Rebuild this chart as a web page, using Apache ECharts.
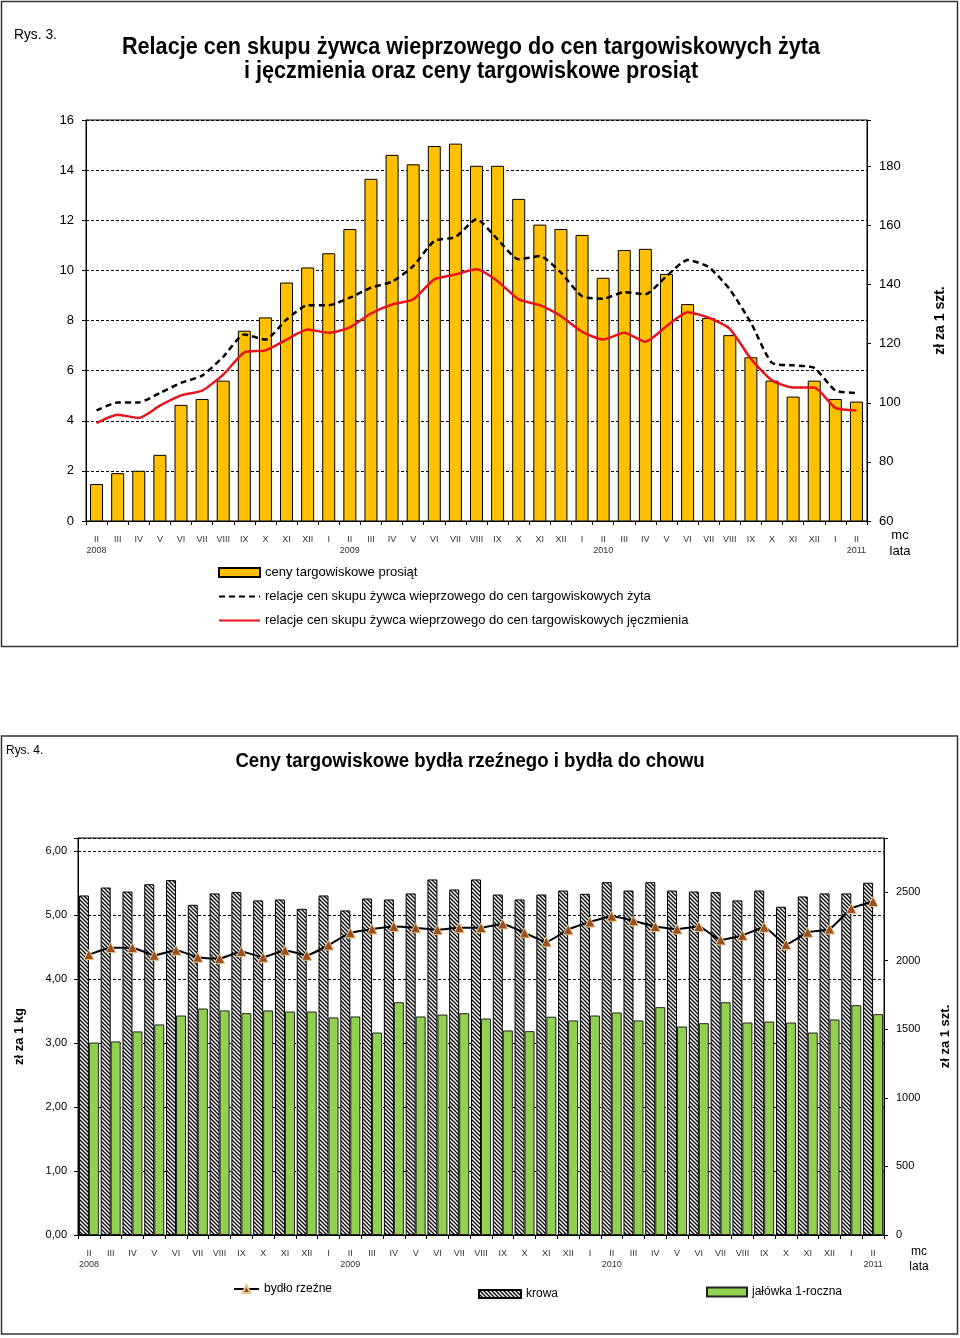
<!DOCTYPE html>
<html><head><meta charset="utf-8">
<script src="https://cdn.jsdelivr.net/npm/echarts@6/dist/echarts.min.js"></script>
<style>html,body{margin:0;padding:0;background:#fff}#c{width:960px;height:1338px}</style>
</head><body><div id="c"></div>
<script>
// ---- shared categories (months Feb 2008 – Feb 2011) ----
const categories = ['II\n2008','III','IV','V','VI','VII','VIII','IX','X','XI','XII','I',
  'II\n2009','III','IV','V','VI','VII','VIII','IX','X','XI','XII','I',
  'II\n2010','III','IV','V','VI','VII','VIII','IX','X','XI','XII','I','II\n2011'];

// ---- Rys. 3 ----
const pigletPrices = [72.5,76.2,77.0,82.4,99.3,101.3,107.5,124.4,128.9,140.7,145.8,150.6,
  158.8,175.8,183.9,180.7,186.9,187.7,180.2,180.2,169.0,160.3,158.8,156.8,
  142.3,151.7,152.1,143.6,133.4,128.7,122.9,115.4,107.5,102.1,107.5,101.3,100.4];
const ryeRatio = [4.41,4.73,4.73,5.11,5.51,5.80,6.55,7.44,7.24,8.04,8.61,8.61,
  8.91,9.31,9.55,10.17,11.17,11.33,12.04,11.24,10.44,10.57,9.91,8.97,
  8.87,9.13,9.05,9.77,10.41,10.13,9.24,7.91,6.31,6.21,6.11,5.21,5.11];
const barleyRatio = [3.91,4.24,4.11,4.60,5.01,5.20,5.84,6.73,6.81,7.24,7.64,7.51,
  7.73,8.28,8.64,8.84,9.64,9.84,10.04,9.57,8.84,8.61,8.17,7.55,
  7.24,7.51,7.15,7.77,8.33,8.11,7.67,6.47,5.61,5.33,5.33,4.51,4.41];

// ---- Rys. 4 ----
const slaughterCattle = [4.38,4.49,4.49,4.37,4.45,4.34,4.32,4.43,4.34,4.45,4.37,4.53,
  4.72,4.78,4.82,4.80,4.77,4.80,4.80,4.86,4.72,4.58,4.77,4.89,
  4.98,4.91,4.82,4.78,4.82,4.61,4.68,4.81,4.54,4.73,4.78,5.10,5.21];
const cowPrices = [2475,2533,2504,2557,2587,2407,2490,2499,2439,2446,2378,2475,
  2366,2453,2446,2490,2592,2519,2592,2482,2446,2482,2511,2487,
  2572,2511,2572,2511,2504,2499,2439,2511,2393,2468,2490,2490,2568];
const heiferPrices = [1403,1411,1484,1535,1600,1651,1637,1617,1637,1629,1629,1586,
  1593,1476,1697,1593,1607,1617,1578,1491,1486,1591,1564,1600,
  1622,1564,1661,1520,1544,1697,1549,1556,1549,1476,1571,1675,1610];

const FONT = "'Liberation Sans', Arial, sans-serif";

// hatch pattern for "krowa"
const hc = document.createElement('canvas');
hc.width = 4; hc.height = 4;
const hx = hc.getContext('2d');
hx.fillStyle = '#fff'; hx.fillRect(0,0,4,4);
hx.strokeStyle = '#000'; hx.lineWidth = 1.3;
hx.beginPath();
hx.moveTo(0,0); hx.lineTo(4,4);
hx.moveTo(-1,3); hx.lineTo(1,5);
hx.moveTo(3,-1); hx.lineTo(5,1);
hx.stroke();
const hatch = {image: hc, repeat: 'repeat'};

const xAxisBase = (gi) => ({
  gridIndex: gi, type: 'category', data: categories, boundaryGap: true,
  axisLine: {lineStyle: {color: '#000', width: 1}},
  axisTick: {show: true, length: 4, lineStyle: {color: '#000'}},
  axisLabel: {interval: 0, fontSize: 9, color: '#333', margin: 13, lineHeight: 11, fontFamily: FONT}
});

const chart = echarts.init(document.getElementById('c'), null, {renderer: 'canvas'});
chart.setOption({
  animation: false,
  backgroundColor: '#fff',
  textStyle: {fontFamily: FONT},
  grid: [
    {left: 86, top: 120, right: 93, height: 401, show: true, borderColor: '#000', borderWidth: 1, backgroundColor: 'transparent', containLabel: false},
    {left: 78, top: 838, right: 70, height: 397, show: true, borderColor: '#000', borderWidth: 1, backgroundColor: 'transparent', containLabel: false}
  ],
  xAxis: [xAxisBase(0), xAxisBase(1)],
  yAxis: [
    {gridIndex: 0, type: 'value', min: 0, max: 16, interval: 2,
      axisLine: {show: true, lineStyle: {color: '#000'}},
      axisTick: {show: true, length: 4, lineStyle: {color: '#000'}},
      axisLabel: {fontSize: 13, color: '#000', margin: 12},
      splitLine: {show: true, lineStyle: {color: '#000', type: [3, 2], width: 1}}},
    {gridIndex: 0, type: 'value', position: 'right', min: 60, max: 195.7, interval: 20,
      axisLine: {show: true, lineStyle: {color: '#000'}},
      axisTick: {show: true, length: 4, lineStyle: {color: '#000'}},
      axisLabel: {fontSize: 13, color: '#000', margin: 12,
        formatter: v => (Math.abs(v % 20) < 1e-6 ? String(v) : '')},
      splitLine: {show: false},
      name: 'zł za 1 szt.', nameLocation: 'middle', nameRotate: 90, nameGap: 66,
      nameTextStyle: {fontSize: 14, fontWeight: 'bold', color: '#000'}},
    {gridIndex: 1, type: 'value', min: 0, max: 6.203, interval: 1,
      axisLine: {show: true, lineStyle: {color: '#000'}},
      axisTick: {show: true, length: 4, lineStyle: {color: '#000'}},
      axisLabel: {fontSize: 11, color: '#000', margin: 11,
        formatter: v => (Math.abs(v - Math.round(v)) < 1e-6 ? v.toFixed(2).replace('.', ',') : '')},
      splitLine: {show: true, lineStyle: {color: '#000', type: [3, 2], width: 1}},
      name: 'zł za 1 kg', nameLocation: 'middle', nameRotate: 90, nameGap: 52,
      nameTextStyle: {fontSize: 13, fontWeight: 'bold', color: '#000'}},
    {gridIndex: 1, type: 'value', position: 'right', min: 0, max: 2894, interval: 500,
      axisLine: {show: true, lineStyle: {color: '#000'}},
      axisTick: {show: true, length: 4, lineStyle: {color: '#000'}},
      axisLabel: {fontSize: 11, color: '#000', margin: 12,
        formatter: v => (Math.abs(v % 500) < 1e-6 ? String(v) : '')},
      splitLine: {show: false},
      name: 'zł za 1 szt.', nameLocation: 'middle', nameRotate: 90, nameGap: 55,
      nameTextStyle: {fontSize: 13, fontWeight: 'bold', color: '#000'}}
  ],
  legend: [
    {orient: 'vertical', left: 218, top: 566, padding: 0, itemWidth: 41, itemHeight: 9, itemGap: 11,
      textStyle: {fontSize: 13, color: '#000'},
      data: [{name: 'ceny targowiskowe prosiąt', icon: 'rect'},
             {name: 'relacje cen skupu żywca wieprzowego do cen targowiskowych żyta', itemStyle: {opacity: 0}},
             {name: 'relacje cen skupu żywca wieprzowego do cen targowiskowych jęczmienia', itemStyle: {opacity: 0}}]},
    {left: 233, top: 1283, padding: 0, itemWidth: 25, itemHeight: 10, textStyle: {fontSize: 12, color: '#000'},
      data: ['bydło rzeźne']},
    {left: 478, top: 1288, padding: 0, itemWidth: 42, itemHeight: 8, textStyle: {fontSize: 12, color: '#000'},
      data: [{name: 'krowa', icon: 'rect'}]},
    {left: 706, top: 1286, padding: 0, itemWidth: 40, itemHeight: 9, textStyle: {fontSize: 12, color: '#000'},
      data: [{name: 'jałówka 1-roczna', icon: 'rect'}]}
  ],
  series: [
    {name: 'ceny targowiskowe prosiąt', type: 'bar', xAxisIndex: 0, yAxisIndex: 1,
      data: pigletPrices, barWidth: 13,
      itemStyle: {color: '#FFC000', borderColor: '#000', borderWidth: 1}},
    {name: 'relacje cen skupu żywca wieprzowego do cen targowiskowych żyta', type: 'line',
      xAxisIndex: 0, yAxisIndex: 0, data: ryeRatio, symbol: 'none', smooth: 0.2, z: 4,
      itemStyle: {color: '#000'},
      lineStyle: {color: '#000', width: 2.5, type: [6, 4]}},
    {name: 'relacje cen skupu żywca wieprzowego do cen targowiskowych jęczmienia', type: 'line',
      xAxisIndex: 0, yAxisIndex: 0, data: barleyRatio, symbol: 'none', smooth: 0.2, z: 4,
      itemStyle: {color: '#E8141B'},
      lineStyle: {color: '#E8141B', width: 2.5}},
    {name: 'krowa', type: 'bar', xAxisIndex: 1, yAxisIndex: 3, data: cowPrices,
      barWidth: 10, barGap: '0%',
      itemStyle: {color: hatch, borderColor: '#000', borderWidth: 1}},
    {name: 'jałówka 1-roczna', type: 'bar', xAxisIndex: 1, yAxisIndex: 3, data: heiferPrices,
      barWidth: 10, barGap: '0%',
      itemStyle: {color: '#92D050', borderColor: '#222', borderWidth: 1}},
    {name: 'bydło rzeźne', type: 'line', xAxisIndex: 1, yAxisIndex: 2, data: slaughterCattle,
      symbol: 'triangle', symbolSize: 10, smooth: 0.15, z: 4,
      lineStyle: {color: '#000', width: 2},
      itemStyle: {color: '#9C4F1E', borderColor: '#E2C98F', borderWidth: 1}}
  ],
  graphic: [
    {type: 'rect', shape: {x: 1.5, y: 1.5, width: 956, height: 645}, style: {fill: 'none', stroke: '#333', lineWidth: 1.5}, silent: true},
    {type: 'rect', shape: {x: 1.5, y: 736, width: 956, height: 598}, style: {fill: 'none', stroke: '#333', lineWidth: 1.5}, silent: true},
    {type: 'text', x: 14, y: 35, scaleX: 0.92, style: {text: 'Rys. 3.', font: "15px " + FONT, fill: '#000', verticalAlign: 'middle'}},
    {type: 'text', x: 471, y: 48, scaleX: 0.94, style: {text: 'Relacje cen skupu żywca wieprzowego do cen targowiskowych żyta', font: "bold 23px " + FONT, fill: '#000', align: 'center', verticalAlign: 'middle'}},
    {type: 'text', x: 471, y: 72, scaleX: 0.94, style: {text: 'i jęczmienia oraz ceny targowiskowe prosiąt', font: "bold 23px " + FONT, fill: '#000', align: 'center', verticalAlign: 'middle'}},
    {type: 'text', x: 900, y: 535, style: {text: 'mc', font: "13px " + FONT, fill: '#000', align: 'center', verticalAlign: 'middle'}},
    {type: 'text', x: 900, y: 551, style: {text: 'lata', font: "13px " + FONT, fill: '#000', align: 'center', verticalAlign: 'middle'}},
    {type: 'text', x: 6, y: 750, scaleX: 0.92, style: {text: 'Rys. 4.', font: "13px " + FONT, fill: '#000', verticalAlign: 'middle'}},
    {type: 'text', x: 470, y: 761, scaleX: 0.93, style: {text: 'Ceny targowiskowe bydła rzeźnego i bydła do chowu', font: "bold 20px " + FONT, fill: '#000', align: 'center', verticalAlign: 'middle'}},
    {type: 'text', x: 919, y: 1252, style: {text: 'mc', font: "12px " + FONT, fill: '#000', align: 'center', verticalAlign: 'middle'}},
    {type: 'text', x: 919, y: 1267, style: {text: 'lata', font: "12px " + FONT, fill: '#000', align: 'center', verticalAlign: 'middle'}}
  ]
});
</script></body></html>
